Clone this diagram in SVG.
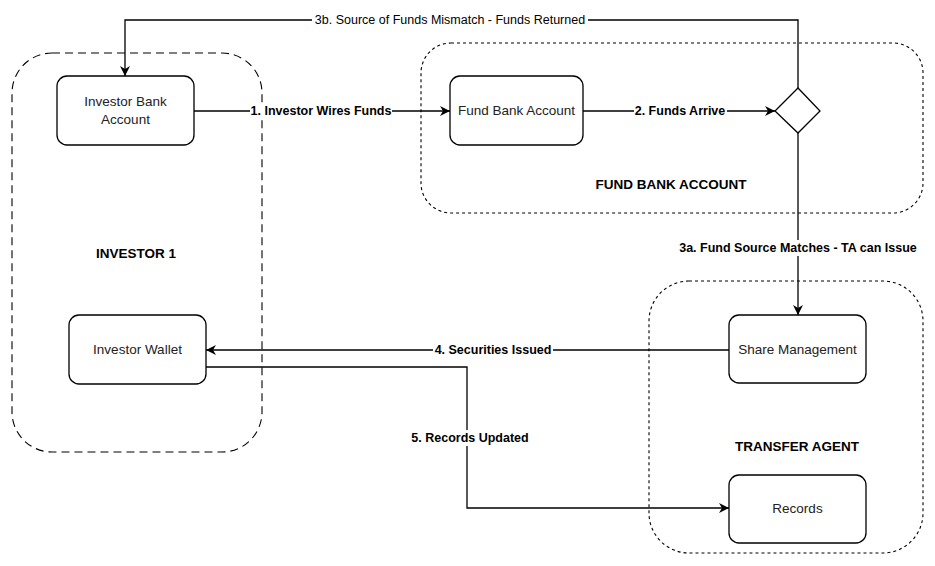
<svg xmlns="http://www.w3.org/2000/svg" width="935" height="566" viewBox="0 0 935 566">
<style>
.node{fill:#fff;stroke:#000;stroke-width:1.3}
.cont{fill:none;stroke:#000;stroke-width:1.1}
.dash{stroke-dasharray:8 5}
.dot{stroke-dasharray:3 3}
.t{font-family:"Liberation Sans",Arial,sans-serif;font-size:13.5px;fill:#222;text-anchor:middle;dominant-baseline:central}
.ct{font-family:"Liberation Sans",Arial,sans-serif;font-size:13.5px;font-weight:bold;fill:#000;text-anchor:middle;dominant-baseline:central}
.el{font-family:"Liberation Sans",Arial,sans-serif;font-size:12.5px;font-weight:bold;fill:#000;text-anchor:middle;dominant-baseline:central}
.elr{font-family:"Liberation Sans",Arial,sans-serif;font-size:12.5px;fill:#000;text-anchor:middle;dominant-baseline:central}
.edge{fill:none;stroke:#000;stroke-width:1.3}
.bg{fill:#fff}
</style>
<defs>
<marker id="arr" viewBox="0 0 10 10" refX="10" refY="5" markerWidth="10" markerHeight="10" markerUnits="userSpaceOnUse" orient="auto">
<path d="M0,0 L10,5 L0,10 L3,5 Z" fill="#000"/>
</marker>
</defs>
<rect width="935" height="566" fill="#fff"/>
<g id="containers">
<g id="investor1"><rect class="cont dash" x="12" y="53" width="250" height="399" rx="40"/><text class="ct" x="136" y="253">INVESTOR 1</text></g>
<g id="fundbank"><rect class="cont dot" x="421" y="43" width="502" height="170" rx="30"/><text class="ct" x="671" y="184">FUND BANK ACCOUNT</text></g>
<g id="transferagent"><rect class="cont dot" x="649" y="281" width="274" height="272" rx="40"/><text class="ct" x="797" y="446">TRANSFER AGENT</text></g>
</g>
<g id="connectors">
<path class="edge" d="M798,88 V20 H125 V76" marker-end="url(#arr)"/>
<path class="edge" d="M194,111 H450" marker-end="url(#arr)"/>
<path class="edge" d="M583,111 H775" marker-end="url(#arr)"/>
<path class="edge" d="M798,133 V315" marker-end="url(#arr)"/>
<path class="edge" d="M729,350 H206" marker-end="url(#arr)"/>
<path class="edge" d="M206,367 H467 V508 H729" marker-end="url(#arr)"/>
<rect class="bg" x="312" y="12" width="276" height="16"/><text class="elr" x="450" y="20">3b. Source of Funds Mismatch - Funds Returned</text>
<rect class="bg" x="250" y="103" width="142" height="16"/><text class="el" x="321" y="111">1. Investor Wires Funds</text>
<rect class="bg" x="634" y="103" width="93" height="16"/><text class="el" x="680" y="111">2. Funds Arrive</text>
<rect class="bg" x="678" y="240" width="240" height="16"/><text class="el" x="798" y="248">3a. Fund Source Matches - TA can Issue</text>
<rect class="bg" x="433" y="342" width="120" height="16"/><text class="el" x="493" y="350">4. Securities Issued</text>
<rect class="bg" x="411" y="430" width="119" height="16"/><text class="el" x="470" y="438">5. Records Updated</text>
</g>
<g id="investor-bank-account"><rect class="node" x="57" y="76" width="137" height="69" rx="10"/><text class="t" x="125.5" y="101">Investor Bank</text><text class="t" x="125.5" y="119">Account</text></g>
<g id="fund-bank-account"><rect class="node" x="450" y="76" width="133" height="69" rx="10"/><text class="t" x="516.5" y="110">Fund Bank Account</text></g>
<g id="decision"><polygon class="node" points="798,88 820,111 798,133 775,111"/></g>
<g id="investor-wallet"><rect class="node" x="69" y="315" width="137" height="69" rx="10"/><text class="t" x="137.5" y="349">Investor Wallet</text></g>
<g id="share-management"><rect class="node" x="729" y="315" width="137" height="68" rx="10"/><text class="t" x="797.5" y="349">Share Management</text></g>
<g id="records"><rect class="node" x="729" y="475" width="137" height="68" rx="10"/><text class="t" x="797.5" y="508">Records</text></g>
</svg>
